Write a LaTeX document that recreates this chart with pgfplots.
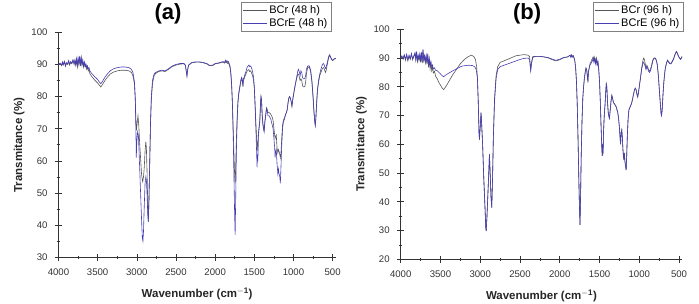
\documentclass[border=0pt]{standalone}
\usepackage{pgfplots}
\pgfplotsset{compat=1.18}
\usepackage{fontspec}
\setmainfont{Liberation Sans}
\definecolor{cBCr}{RGB}{85,85,85}
\definecolor{cBCrE}{RGB}{72,62,180}
\pgfplotsset{
  irstyle/.style={
    scale only axis, x dir=reverse, xmin=460, xmax=4000,
    axis x line*=bottom, axis y line*=left,
    axis line style={black!80, line width=0.6pt},
    xtick={500,1000,...,4000}, minor x tick num=1, minor y tick num=1,
    tick align=center, major tick length=7pt, minor tick length=3.5pt,
    tick style={black!80, line width=0.6pt},
    /pgf/number format/assume math mode=true,
    /pgf/number format/1000 sep={},
    scaled ticks=false,
    ticklabel style={font=\fontsize{9.6}{10}\selectfont, black!80},
    xticklabel style={yshift=-4pt},
    yticklabel style={xshift=-4pt},
    xlabel={\textbf{Wavenumber (cm$^{\mathbf{-1}}$)}},
    ylabel={\textbf{Transmitance (\%)}},
    label style={font=\fontsize{11.5}{12}\selectfont, black!85},
    xlabel style={yshift=-6pt},
    legend cell align=left,
    legend style={draw=black!50, font=\fontsize{11}{12}\selectfont, anchor=north east,
      inner sep=1.5pt, row sep=-1pt, line width=0.5pt},
    legend image code/.code={\draw[#1, line width=0.6pt] (0cm,0cm) -- (0.85cm,0cm);},
    every axis plot/.append style={line width=0.6pt},
    title style={font=\bfseries\fontsize{22}{24}\selectfont},
  }
}
\begin{document}
\begin{tikzpicture}
\useasboundingbox (0,0) rectangle (699pt,304pt);
% ---------------- panel (a)
\begin{axis}[irstyle,
  at={(58.5pt,46.7pt)}, anchor=south west, width=277.3pt, height=225pt,
  ymin=30, ymax=100, ytick={30,40,...,100},
  title={(a)}, title style={at={(0.395,1.055)}, anchor=center},
  legend style={at={(0.983,1.135)}},
]
\addplot[cBCr] coordinates {
(4000,89.8)(3980,90.2)(3960,89.6)(3950,90.5)(3940,89.8)(3925,90.7)(3910,89.4)(3900,90.3)(3885,90.0)(3870,90.9)(3860,89.8)(3845,90.6)(3830,90.2)(3815,91.2)(3800,90.0)(3790,91.1)(3780,89.8)(3770,91.5)(3760,89.3)(3750,91.7)(3740,89.9)(3730,92.3)(3720,89.5)(3710,91.9)(3700,89.7)(3690,91.1)(3680,89.2)(3670,90.4)(3660,89.2)(3650,89.8)(3640,88.5)(3630,89.1)(3620,88.0)(3610,88.3)(3600,87.2)(3580,86.4)(3560,85.8)(3540,85.2)(3520,84.7)(3500,84.2)(3480,83.6)(3460,83.0)(3440,83.7)(3420,84.5)(3400,85.3)(3370,86.2)(3340,87.0)(3300,87.6)(3250,88.0)(3200,88.2)(3150,88.2)(3100,88.0)(3070,87.5)(3050,86.5)(3030,84.0)(3020,79.5)(3012,73)(3005,69.5)(2995,72)(2985,74)(2975,71)(2965,66)(2950,60)(2940,56)(2930,54)(2925,53.5)(2915,55)(2905,58)(2895,63)(2885,66)(2878,64)(2870,57)(2860,46)(2853,41)(2845,48)(2835,60)(2825,72)(2815,79)(2800,84)(2780,86.5)(2760,87.2)(2720,87.8)(2680,88.0)(2640,87.8)(2600,88.4)(2550,89.3)(2500,89.8)(2450,90.1)(2400,90.2)(2380,89.7)(2370,88.0)(2360,86.5)(2350,88.5)(2340,89.7)(2320,90.1)(2300,90.5)(2250,90.7)(2200,90.7)(2150,90.5)(2100,90.1)(2080,89.7)(2050,89.6)(2020,89.8)(2000,90.2)(1950,90.4)(1900,90.7)(1880,90.4)(1870,91.0)(1860,90.5)(1850,90.9)(1840,90.3)(1830,90.5)(1820,89.8)(1810,89.0)(1800,87.0)(1790,83.5)(1780,78)(1770,70)(1760,62)(1752,56)(1745,53)(1738,58)(1730,66)(1720,73)(1710,78)(1700,80.5)(1690,82)(1680,83.5)(1670,85)(1660,85.5)(1650,84)(1645,83)(1640,85)(1630,85.5)(1620,86.3)(1610,86.8)(1600,87.5)(1590,88)(1580,88.2)(1570,88.4)(1560,87.8)(1550,88)(1540,87.6)(1530,87)(1520,86.3)(1510,85)(1500,82.5)(1490,77.5)(1480,71.5)(1470,66.5)(1465,64.5)(1460,66)(1455,63)(1450,68)(1440,70.5)(1430,73)(1420,78.5)(1415,80)(1408,79)(1400,74.5)(1390,71.5)(1380,70)(1375,69.5)(1365,72.5)(1355,74.5)(1345,76.5)(1335,76)(1325,75)(1310,75)(1300,74.8)(1290,74.5)(1280,74)(1270,73.5)(1260,72.5)(1250,70)(1240,68)(1235,67)(1228,67.5)(1220,68)(1210,64)(1200,62.5)(1192,63.5)(1185,63)(1175,62)(1168,61)(1160,62.5)(1150,67)(1140,71)(1130,72.5)(1115,73.5)(1100,74.5)(1090,75)(1080,76)(1070,78)(1060,79.5)(1050,80)(1040,79.5)(1030,78.5)(1020,77)(1010,79)(1000,80.5)(990,82)(975,84)(960,85.5)(945,87)(935,87)(925,86)(915,85)(905,85.5)(895,85)(885,83.5)(875,83)(865,83)(855,83.2)(845,84.5)(835,87)(820,89)(805,89.2)(795,89)(780,87.5)(765,84.5)(750,79.5)(740,75.5)(730,72.5)(722,71)(715,73)(705,77.5)(695,81.5)(680,84.5)(665,86.5)(650,87.5)(635,88.5)(620,89)(610,88.8)(600,88)(590,87.5)(580,88.5)(565,90.5)(550,92.2)(540,92.8)(530,92.4)(520,91.8)(510,91.4)(500,91.2)(490,91.4)(480,91.7)(470,91.7)(460,91.8)
};
\addlegendentry{BCr (48 h)}
\addplot[cBCrE] coordinates {
(4000,90.0)(3980,90.4)(3960,89.8)(3950,90.8)(3940,90.0)(3925,91.0)(3910,89.6)(3900,90.6)(3885,90.2)(3870,91.2)(3860,90.0)(3845,90.9)(3830,90.4)(3815,91.5)(3800,90.3)(3790,91.4)(3780,90.0)(3770,91.8)(3760,89.6)(3750,92.0)(3740,90.2)(3730,92.6)(3720,89.8)(3710,92.2)(3700,90.0)(3690,91.4)(3680,89.5)(3670,90.8)(3660,89.6)(3650,90.2)(3640,89.0)(3630,89.6)(3620,88.6)(3610,89.0)(3600,88.0)(3580,87.3)(3560,86.8)(3540,86.2)(3520,85.8)(3500,85.3)(3480,84.6)(3460,84.0)(3440,84.7)(3420,85.5)(3400,86.3)(3370,87.2)(3340,88.0)(3300,88.6)(3250,89.0)(3200,89.2)(3150,89.2)(3100,89.0)(3070,88.5)(3050,87.5)(3030,84.5)(3020,79)(3012,70)(3007,61)(3000,66)(2990,69)(2980,68)(2970,62)(2955,52)(2940,42)(2930,36)(2922,35)(2915,38)(2905,46)(2895,53)(2885,55)(2878,54)(2870,50)(2860,43)(2853,41)(2845,48)(2835,60)(2825,72)(2815,80)(2800,85)(2780,87)(2760,87.5)(2720,88)(2680,88.2)(2640,88.0)(2600,88.6)(2550,89.5)(2500,90.0)(2450,90.3)(2400,90.3)(2380,89.8)(2370,88.0)(2360,86.3)(2350,88.5)(2340,89.8)(2320,90.2)(2300,90.6)(2250,90.8)(2200,90.8)(2150,90.6)(2100,90.2)(2080,89.8)(2050,89.7)(2020,89.9)(2000,90.3)(1950,90.5)(1900,90.9)(1880,90.6)(1870,91.3)(1860,90.8)(1850,91.2)(1840,90.7)(1830,90.9)(1820,90.2)(1810,89.5)(1800,87.5)(1790,84)(1780,78)(1770,68)(1760,55)(1752,44)(1745,37)(1738,48)(1730,62)(1720,72)(1710,78)(1700,81)(1690,82.5)(1680,84)(1670,85.5)(1660,86)(1650,84.5)(1645,83.5)(1640,85.5)(1630,86)(1620,87)(1610,87.5)(1600,88.5)(1590,89.2)(1580,89.5)(1570,89.8)(1560,89.3)(1550,89.5)(1540,89.2)(1530,88.5)(1520,87.5)(1510,86)(1500,83)(1490,77)(1480,70)(1470,62)(1465,58)(1460,62)(1455,60)(1450,67)(1440,70)(1430,72)(1420,78)(1415,80)(1408,79)(1400,74)(1390,71)(1380,69.5)(1375,69)(1365,72)(1355,74)(1345,76)(1335,75.5)(1325,74)(1310,74)(1300,73.5)(1290,73)(1280,72)(1270,71)(1260,70)(1250,67)(1240,64)(1235,61)(1228,63)(1220,63.5)(1210,59)(1200,56)(1192,57.5)(1185,56)(1175,55)(1168,53)(1160,58)(1150,65)(1140,70)(1130,72)(1115,73)(1100,74.5)(1090,75)(1080,76)(1070,78)(1060,79.5)(1050,80)(1040,79.5)(1030,78.5)(1020,77)(1010,79)(1000,80.5)(990,82)(975,84)(960,86)(945,88)(935,88.5)(925,87.5)(915,86.5)(905,88)(895,87.5)(885,86)(875,85.5)(865,85.5)(855,85.7)(845,86.5)(835,88.5)(820,89.5)(805,89.6)(795,89.4)(780,88)(765,85)(750,80)(740,76)(730,72.5)(722,71)(715,73)(705,78)(695,82)(680,85)(665,87)(650,88.5)(635,89.7)(620,90.3)(610,90)(600,89.2)(590,88.8)(580,89.5)(565,91)(550,92.5)(540,93)(530,92.6)(520,92)(510,91.5)(500,91.3)(490,91.5)(480,91.8)(470,91.8)(460,91.9)
};
\addlegendentry{BCrE (48 h)}
\end{axis}
% ---------------- panel (b)
\begin{axis}[irstyle,
  at={(400.7pt,44.7pt)}, anchor=south west, width=281.5pt, height=230pt,
  ymin=20, ymax=100, ytick={20,30,...,100},
  title={(b)}, title style={at={(0.449,1.04)}, anchor=center},
  legend style={at={(1.003,1.119)}},
]
\addplot[cBCr] coordinates {
(4000,89.8)(3985,90.4)(3970,89.5)(3955,90.9)(3940,89.2)(3925,91.0)(3910,89.0)(3895,90.7)(3880,89.5)(3865,91.3)(3850,89.4)(3835,90.4)(3820,91.6)(3810,89.2)(3800,92.0)(3790,88.8)(3780,90.6)(3770,89.2)(3760,91.0)(3750,88.5)(3740,91.8)(3730,88.2)(3720,92.8)(3710,89.0)(3700,90.5)(3690,88.3)(3680,90.6)(3670,87.8)(3660,91.2)(3650,86.8)(3640,89.6)(3630,86.2)(3620,88.2)(3610,85.6)(3600,87.0)(3590,84.8)(3575,85.4)(3560,83.6)(3540,82.8)(3520,81.5)(3500,80.6)(3480,79.6)(3460,79.0)(3440,79.8)(3420,80.6)(3400,81.6)(3350,84.0)(3300,86.0)(3250,88.0)(3200,89.5)(3150,90.5)(3110,91.0)(3080,90.5)(3060,89.5)(3045,87)(3035,83)(3025,75)(3015,64)(3010,61.5)(3000,66)(2990,71)(2985,69)(2970,60)(2955,48)(2940,38)(2930,31)(2925,29.8)(2915,35)(2900,45)(2890,52)(2884,56.5)(2875,50)(2865,42)(2855,38)(2845,48)(2835,62)(2820,76)(2800,84)(2780,87)(2750,88.5)(2700,89)(2680,89.3)(2650,89.6)(2600,90.2)(2550,90.8)(2500,91)(2450,91.2)(2400,91)(2380,90.5)(2365,86)(2355,88.5)(2340,90.5)(2300,90.6)(2250,90.6)(2200,90.4)(2150,90.1)(2100,89.5)(2050,89.0)(2000,89.4)(1950,90.1)(1900,90.4)(1870,91.0)(1860,90.3)(1850,91.1)(1840,90.4)(1830,90.8)(1820,90)(1810,89)(1800,86.5)(1790,82)(1780,74)(1770,62)(1760,48)(1752,38)(1745,32)(1738,42)(1730,56)(1720,68)(1710,76)(1700,80)(1690,83)(1680,85)(1670,86.5)(1660,85.5)(1650,82.5)(1645,81.5)(1640,85)(1630,86.5)(1620,88)(1610,88.5)(1600,89.2)(1590,89.8)(1580,90.4)(1570,89)(1560,90.3)(1550,88.5)(1540,90)(1530,88)(1520,89)(1510,86.5)(1500,82)(1490,75)(1480,66)(1470,58)(1465,56)(1460,60)(1455,56.5)(1450,64)(1440,70)(1430,74)(1420,79)(1415,81)(1408,80)(1400,75)(1390,71)(1380,69.5)(1375,69)(1365,72)(1355,75)(1345,77)(1335,76)(1325,74.5)(1310,74)(1300,73.5)(1290,73)(1280,72)(1270,71)(1260,69)(1250,66)(1240,61.5)(1235,60)(1228,64)(1220,65)(1212,62)(1205,58)(1195,54.5)(1188,57)(1180,54)(1170,52)(1165,51)(1158,56)(1150,63)(1140,69)(1130,72)(1115,73)(1100,74)(1090,75)(1075,77)(1060,79)(1050,79.5)(1040,79)(1030,77.5)(1020,76.5)(1010,78)(1000,80)(985,83)(970,86.5)(955,89)(945,90)(935,89.5)(925,88)(915,86.5)(905,87.5)(895,87)(885,86)(870,85.5)(860,86)(845,87.5)(830,89.3)(815,90)(800,90)(790,89.6)(775,88)(760,84)(745,78)(735,74)(725,70.5)(720,70)(712,72)(700,78)(690,82)(675,86)(660,88)(645,89.3)(630,88.7)(615,88.2)(600,88.2)(585,88.9)(570,89.7)(555,91)(540,92)(530,92.3)(520,91.6)(505,90.6)(490,89.9)(480,89.6)(470,90.1)(460,90.6)
};
\addlegendentry{BCr (96 h)}
\addplot[cBCrE] coordinates {
(4000,90.2)(3985,90.8)(3970,89.9)(3955,91.2)(3940,89.6)(3925,91.3)(3910,89.4)(3895,91.0)(3880,89.8)(3865,91.6)(3850,89.7)(3835,90.8)(3820,91.9)(3810,89.6)(3800,92.3)(3790,89.2)(3780,91.0)(3770,89.6)(3760,91.4)(3750,88.9)(3740,92.1)(3730,88.6)(3720,93.0)(3710,89.4)(3700,90.9)(3690,88.8)(3680,91.0)(3670,88.4)(3660,91.5)(3650,87.6)(3640,90.0)(3630,87.2)(3620,88.8)(3610,86.8)(3600,87.6)(3590,86.2)(3575,86.6)(3560,85.7)(3540,85.6)(3520,85.0)(3500,84.5)(3480,83.9)(3460,83.5)(3440,84.0)(3420,84.3)(3400,84.7)(3380,85.0)(3330,85.8)(3280,86.5)(3230,87.2)(3150,87.5)(3100,87.4)(3070,87)(3050,86)(3035,83)(3025,75)(3015,64)(3010,62)(3000,66)(2990,71)(2985,69)(2970,60)(2955,48)(2940,38)(2930,31)(2925,29.8)(2915,35)(2900,45)(2890,52)(2884,56.5)(2875,50)(2865,42)(2855,38)(2845,48)(2835,62)(2820,75)(2800,83)(2780,86)(2750,87)(2700,87.5)(2650,88)(2600,88.5)(2550,89)(2500,89.5)(2450,89.9)(2400,90)(2380,89.5)(2365,85.5)(2355,88)(2340,90.2)(2300,90.6)(2250,90.6)(2200,90.4)(2150,90.2)(2100,89.7)(2050,89.2)(2000,89.6)(1950,90.2)(1900,90.4)(1870,91.0)(1860,90.3)(1850,91.1)(1840,90.4)(1830,90.8)(1820,90)(1810,89)(1800,86.5)(1790,82)(1780,74)(1770,62)(1760,48)(1752,38)(1745,32)(1738,42)(1730,56)(1720,68)(1710,76)(1700,80)(1690,83)(1680,85)(1670,86.5)(1660,86)(1650,83)(1645,82)(1640,85)(1630,86.5)(1620,87.5)(1610,88)(1600,88.5)(1590,89)(1580,90)(1570,88.5)(1560,89.8)(1550,88)(1540,89.5)(1530,87.5)(1520,88.5)(1510,86)(1500,82)(1490,75)(1480,66)(1470,58)(1465,56)(1460,60)(1455,57)(1450,64)(1440,70)(1430,74)(1420,79)(1415,81)(1408,80)(1400,75)(1390,71)(1380,69.5)(1375,69)(1365,72)(1355,75)(1345,77)(1335,76)(1325,74.5)(1310,74)(1300,73.5)(1290,73)(1280,72)(1270,71)(1260,69)(1250,66)(1240,62)(1235,60)(1228,64)(1220,65)(1212,62)(1205,58)(1195,55)(1188,57)(1180,54)(1170,52)(1165,51)(1158,56)(1150,63)(1140,69)(1130,72)(1115,73)(1100,74)(1090,75)(1075,77)(1060,79)(1050,79.5)(1040,79)(1030,77.5)(1020,76.5)(1010,78)(1000,80)(985,83)(970,86)(955,88)(945,88.5)(935,88)(925,87)(915,86)(905,87)(895,86.5)(885,85.5)(870,85)(860,85.5)(845,87)(830,89)(815,89.8)(800,89.9)(790,89.5)(775,88)(760,84)(745,78)(735,74)(725,70.5)(720,70)(712,72)(700,78)(690,82)(675,86)(660,88)(645,89.2)(630,88.5)(615,88)(600,88)(585,88.7)(570,89.5)(555,90.8)(540,91.8)(530,92.2)(520,91.5)(505,90.5)(490,89.8)(480,89.5)(470,90)(460,90.5)
};
\addlegendentry{BCrE (96 h)}
\end{axis}
\end{tikzpicture}
\end{document}
